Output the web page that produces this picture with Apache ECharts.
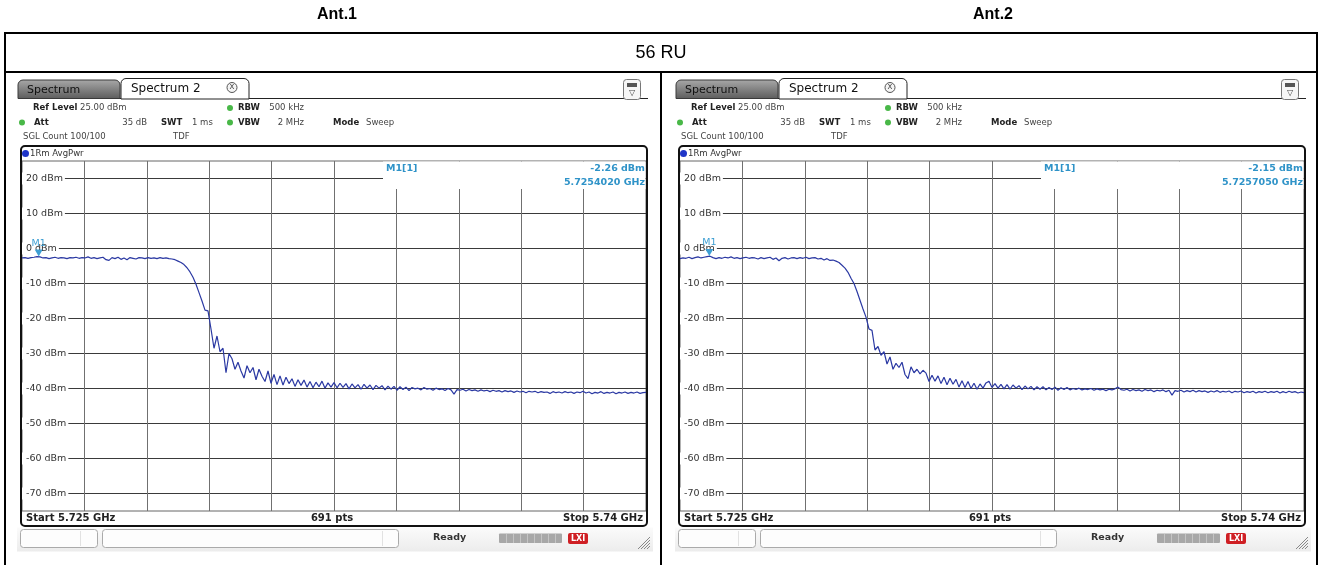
<!DOCTYPE html>
<html>
<head>
<meta charset="utf-8">
<script src="https://cdn.jsdelivr.net/npm/echarts@6/dist/echarts.min.js"></script>
<style>
  html, body { margin: 0; padding: 0; background: #fff; }
  #chart { width: 1322px; height: 565px; }
</style>
</head>
<body>
<div id="chart"></div>
<script>
// ---- sweep setup ----
const startGHz = 5.725;
const stopGHz = 5.74;
const sweepPoints = 691;
const refLevel = 25;          // dBm, top of the display
const displayRange = 100;     // dB over the 10 vertical divisions
const levelTicks = [20, 10, 0, -10, -20, -30, -40, -50, -60, -70];
const panelTitles = ['Ant.1', 'Ant.2'];
const rowTitle = '56 RU';

// ---- marker M1 per antenna ----
const markerFreq = [5.725402, 5.725705];   // GHz
const markerLevel = [-2.26, -2.15];        // dBm

// ---- RMS average trace, evenly spaced from start to stop (dBm) ----
const ant1Level = [
  -2.7, -2.6, -2.8, -2.6, -2.5, -2.3, -2.4, -2.7, -2.6, -2.9,
  -2.7, -2.5, -2.8, -2.6, -2.7, -2.9, -2.6, -2.7, -2.5, -2.8,
  -2.6, -2.7, -2.4, -2.8, -2.6, -2.9, -2.7, -2.5, -3.2, -3.4,
  -2.6, -2.9, -2.5, -3.1, -2.7, -3.2, -2.6, -2.8, -3.0, -2.6,
  -2.7, -2.9, -2.6, -2.8, -2.7, -2.9, -2.6, -2.8, -2.7, -2.9,
  -3.0, -3.2, -3.6, -4.0, -4.6, -5.5, -6.7, -8.2, -10.2, -12.6,
  -15.0, -17.6, -17.8, -23.0, -28.5, -25.0, -29.5, -28.5, -35.5, -30.0,
  -31.5, -34.5, -32.5, -35.0, -37.0, -33.5, -35.5, -34.0, -37.5, -34.5,
  -36.5, -38.0, -35.0, -38.5, -36.0, -38.9, -36.4, -39.0, -36.8, -38.6,
  -37.2, -39.4, -37.5, -39.1, -37.6, -39.6, -38.0, -39.8, -38.2, -39.5,
  -37.9, -39.9, -38.4, -39.6, -38.3, -39.8, -38.5, -39.7, -38.6, -40.1,
  -38.7, -39.8, -38.9, -40.2, -38.8, -39.9, -39.0, -40.3, -39.1, -39.9,
  -39.2, -40.4, -39.3, -40.2, -39.4, -40.5, -39.5, -40.3, -39.6, -40.6,
  -39.7, -40.1, -39.9, -40.4, -39.7, -40.2, -40.0, -40.5, -39.9, -40.3,
  -40.1, -40.6, -40.0, -40.4, -41.6, -40.3, -40.5, -40.2, -40.7, -40.3,
  -40.6, -40.4, -40.8, -40.4, -40.7, -40.5, -40.9, -40.5, -40.8, -40.6,
  -41.0, -40.6, -40.9, -40.7, -41.1, -40.7, -41.0, -40.8, -41.2, -40.8,
  -41.0, -40.8, -41.2, -40.9, -41.1, -41.0, -41.4, -40.9, -41.2, -41.0,
  -41.3, -40.9, -41.2, -41.0, -41.4, -41.0, -41.2, -40.8, -41.3, -41.0,
  -41.5, -41.1, -41.3, -40.9, -41.4, -41.1, -41.3, -41.0, -41.5, -41.1,
  -41.3, -41.0, -41.4, -41.1, -41.3, -41.0, -41.4, -41.2, -41.1
];
const ant2Level = [
  -2.9, -2.7, -2.8, -2.5, -2.9, -2.6, -2.4, -2.7, -2.5, -2.3,
  -2.2, -2.6, -2.9, -2.6, -2.8, -2.5, -2.7, -2.4, -2.8, -2.6,
  -2.9, -2.7, -2.5, -2.8, -2.6, -2.7, -3.0, -2.6, -2.9, -2.7,
  -2.5, -3.1, -2.7, -3.5, -2.8, -2.6, -3.0, -2.7, -2.6, -2.9,
  -2.6, -2.8, -2.5, -2.9, -2.7, -2.6, -3.0, -2.8, -3.3, -2.9,
  -3.4, -3.3, -3.6, -4.0, -4.8, -5.6, -6.8, -8.5, -10.0, -12.3,
  -14.8, -17.3, -19.6, -23.0, -23.4, -29.0, -28.0, -30.5, -29.5, -33.0,
  -31.0, -34.5, -32.8, -34.0, -32.5, -36.0, -37.2, -33.8, -35.5, -34.5,
  -35.8, -34.8, -35.6, -38.0, -36.2, -37.9, -36.4, -38.6, -36.8, -38.9,
  -37.1, -38.8, -37.4, -39.6, -37.8, -39.7, -38.0, -40.0, -38.5, -40.2,
  -38.7, -39.9, -38.4, -37.9, -39.7, -38.6, -39.9, -38.8, -40.1, -38.9,
  -40.2, -39.0, -39.9, -39.2, -40.3, -39.3, -40.1, -39.4, -40.4, -39.5,
  -40.2, -39.5, -40.4, -39.7, -40.3, -39.6, -40.5, -39.8, -40.3, -39.7,
  -40.4, -40.0, -40.3, -39.9, -40.4, -40.1, -40.3, -40.0, -40.5, -40.1,
  -40.4, -40.2, -40.6, -40.2, -40.4, -40.1, -39.6, -40.3, -40.5, -40.2,
  -40.7, -40.3, -40.6, -40.4, -40.8, -40.3, -40.6, -40.4, -40.9, -40.5,
  -40.7, -40.4, -40.9, -40.5, -41.9, -40.6, -40.8, -40.5, -41.0, -40.6,
  -40.9, -40.5, -41.0, -40.6, -40.9, -40.7, -41.1, -40.7, -41.0, -40.6,
  -41.1, -40.8, -41.0, -40.7, -41.2, -40.8, -41.0, -40.7, -41.2, -40.9,
  -41.1, -40.8, -41.3, -40.9, -41.1, -40.8, -41.2, -40.9, -41.1, -40.8,
  -41.3, -40.9, -41.2, -40.8, -41.1, -40.9, -41.3, -41.0, -41.2
];
const traces = [ant1Level, ant2Level];

// ---- drawing helpers ----
const UI_FONT = '"DejaVu Sans", Verdana, sans-serif';
const TRACE_COLOR = '#2b39a3';
const MARKER_COLOR = '#3d9fd3';
const INFO_COLOR = '#2f93c8';
const SET_SIZE = 8.5;   // settings readout text size

function sweepFreq(i, n) {
  return startGHz + i * (stopGHz - startGHz) / (n - 1);
}
function gridFreqs() {
  const out = [];
  for (let k = 1; k < 10; k++) out.push(startGHz + k * (stopGHz - startGHz) / 10);
  return out;
}
function txt(x, y, text, size, opts) {
  opts = opts || {};
  const align = opts.align || 'left';
  return {
    type: 'text', z: opts.z || 20,
    style: {
      x: x, y: y, text: text,
      font: (opts.weight || 'normal') + ' ' + size + 'px ' + (opts.family || UI_FONT),
      fill: opts.fill || '#222',
      align: align, textAlign: align,
      verticalAlign: 'middle', textVerticalAlign: 'middle'
    }
  };
}
function line(x1, y1, x2, y2, stroke, w, z) {
  return { type: 'line', z: z || 15, shape: { x1, y1, x2, y2 }, style: { stroke: stroke, lineWidth: w || 1 } };
}
function rect(x, y, w, h, style, r, z) {
  return { type: 'rect', z: z || 15, shape: { x, y, width: w, height: h, r: r || 0 }, style: style };
}

// Instrument screen decoration for one panel, shifted by dx
function panelGraphics(k, dx) {
  const g = [];
  const G = echarts.graphic;
  // tabs
  g.push(rect(18 + dx, 80, 102, 18.5, {
    fill: new G.LinearGradient(0, 0, 0, 1, [{ offset: 0, color: '#a9a9a9' }, { offset: 1, color: '#5c5c5c' }]),
    stroke: '#3a3a3a', lineWidth: 1 }, [5, 5, 0, 0]));
  g.push(txt(27 + dx, 90, 'Spectrum', 11, { fill: '#111' }));
  g.push(line(18 + dx, 98.5, 648 + dx, 98.5, '#222', 1, 14));
  g.push(rect(121 + dx, 78.5, 128, 20.5, { fill: '#fff', stroke: '#222', lineWidth: 1 }, [5, 5, 0, 0], 16));
  g.push(txt(131 + dx, 88.5, 'Spectrum 2', 12, { fill: '#111', z: 21 }));
  g.push({ type: 'circle', z: 21, shape: { cx: 232 + dx, cy: 87.5, r: 5 }, style: { fill: '#f4f4f4', stroke: '#555', lineWidth: 1 } });
  g.push(txt(232 + dx, 87.5, 'X', 7, { align: 'center', fill: '#333', z: 22 }));
  // top-right menu icon
  g.push(rect(623.5 + dx, 79.5, 17, 20, { fill: '#f6f6f6', stroke: '#777', lineWidth: 1 }, 3, 16));
  g.push(rect(627 + dx, 83, 10, 4, { fill: '#555' }, 0, 17));
  g.push(txt(632 + dx, 93, '\u25BD', 8, { align: 'center', fill: '#444', z: 22 }));

  // setting readouts
  const dot = (cx, cy) => ({ type: 'circle', z: 20, shape: { cx: cx + dx, cy: cy, r: 3 }, style: { fill: '#49b848' } });
  const S = SET_SIZE;
  g.push(txt(33 + dx, 108, 'Ref Level', S, { weight: 'bold' }));
  g.push(txt(80 + dx, 108, refLevel.toFixed(2) + ' dBm', S, { fill: '#444' }));
  g.push(dot(230, 108));
  g.push(txt(238 + dx, 108, 'RBW', S, { weight: 'bold' }));
  g.push(txt(304 + dx, 108, '500 kHz', S, { fill: '#444', align: 'right' }));

  g.push(dot(22, 122.5));
  g.push(txt(34 + dx, 122.5, 'Att', S, { weight: 'bold' }));
  g.push(txt(147 + dx, 122.5, '35 dB', S, { fill: '#444', align: 'right' }));
  g.push(txt(161 + dx, 122.5, 'SWT', S, { weight: 'bold' }));
  g.push(txt(192 + dx, 122.5, '1 ms', S, { fill: '#444' }));
  g.push(dot(230, 122.5));
  g.push(txt(238 + dx, 122.5, 'VBW', S, { weight: 'bold' }));
  g.push(txt(304 + dx, 122.5, '2 MHz', S, { fill: '#444', align: 'right' }));
  g.push(txt(333 + dx, 122.5, 'Mode', S, { weight: 'bold' }));
  g.push(txt(366 + dx, 122.5, 'Sweep', S, { fill: '#444' }));

  g.push(txt(23 + dx, 137, 'SGL Count 100/100', S, { fill: '#444' }));
  g.push(txt(173 + dx, 137, 'TDF', S, { fill: '#444' }));

  // trace window frame and header
  g.push(rect(21 + dx, 146, 626, 380, { fill: 'none', stroke: '#111', lineWidth: 2 }, 4, 30));
  g.push({ type: 'circle', z: 20, shape: { cx: 25.5 + dx, cy: 153.5, r: 3.5 }, style: { fill: '#1f35c8' } });
  g.push(txt(30 + dx, 153.5, '1Rm AvgPwr', S, { fill: '#333' }));

  // marker readout box
  g.push(rect(383 + dx, 161.6, 262.5, 27.4, { fill: '#fff' }, 0, 6));
  g.push(txt(386 + dx, 168.5, 'M1[1]', 9.5, { weight: 'bold', fill: INFO_COLOR }));
  g.push(txt(645 + dx, 168.5, markerLevel[k].toFixed(2) + ' dBm', 9.5, { weight: 'bold', fill: INFO_COLOR, align: 'right' }));
  g.push(txt(645 + dx, 182.5, markerFreq[k].toFixed(7) + ' GHz', 9.5, { weight: 'bold', fill: INFO_COLOR, align: 'right' }));

  // status line under the diagram
  g.push(txt(26 + dx, 518.5, 'Start ' + startGHz + ' GHz', 10, { weight: 'bold', fill: '#222' }));
  g.push(txt(332 + dx, 518.5, sweepPoints + ' pts', 10, { weight: 'bold', fill: '#222', align: 'center' }));
  g.push(txt(643 + dx, 518.5, 'Stop ' + stopGHz + ' GHz', 10, { weight: 'bold', fill: '#222', align: 'right' }));

  // bottom tool bar
  g.push(rect(17 + dx, 527.5, 636, 24, {
    fill: new G.LinearGradient(0, 0, 0, 1, [{ offset: 0, color: '#fbfbfb' }, { offset: 1, color: '#ececec' }]) }, 0, 5));
  g.push(rect(20.5 + dx, 529.5, 77, 18, { fill: '#fdfdfd', stroke: '#aaa', lineWidth: 1 }, 3, 16));
  g.push(line(80.5 + dx, 531, 80.5 + dx, 546, '#e2e2e2', 1, 17));
  g.push(rect(102.5 + dx, 529.5, 296, 18, { fill: '#fdfdfd', stroke: '#aaa', lineWidth: 1 }, 3, 16));
  g.push(line(382.5 + dx, 531, 382.5 + dx, 546, '#e2e2e2', 1, 17));
  g.push(txt(433 + dx, 538, 'Ready', 9.5, { weight: 'bold', fill: '#333' }));
  g.push(rect(499 + dx, 533.5, 63, 9.5, { fill: '#a7a7a7' }, 1, 16));
  for (let s = 1; s < 9; s++) g.push(line(499.5 + dx + s * 7, 534, 499.5 + dx + s * 7, 543, '#c4c4c4', 1, 17));
  g.push(rect(568 + dx, 533, 20, 11, { fill: '#cf1f24' }, 2, 16));
  g.push(txt(578 + dx, 538.5, 'LXI', 8, { weight: 'bold', fill: '#fff', align: 'center', z: 18 }));
  for (let s = 0; s < 4; s++) g.push(line(638 + dx + s * 3, 549, 650 + dx, 537 + s * 3, '#888', 1, 17));
  return g;
}

// ---- layout: two trace windows side by side ----
const gridLeft = [22, 680];
const gridTop = 161;
const gridW = 624;
const gridH = 350;

const grids = gridLeft.map(l => ({
  left: l, top: gridTop, width: gridW, height: gridH,
  show: true, borderColor: '#666', borderWidth: 1, backgroundColor: '#fff'
}));
const xAxes = gridLeft.map((l, k) => ({
  type: 'value', gridIndex: k, min: startGHz, max: stopGHz,
  axisLine: { show: false },
  axisTick: { show: false, customValues: gridFreqs() },
  axisLabel: { show: false },
  splitLine: { show: true, lineStyle: { color: '#707070', width: 1 } }
}));
const yAxes = gridLeft.map((l, k) => ({
  type: 'value', gridIndex: k, min: refLevel - displayRange, max: refLevel,
  axisLine: { show: false },
  axisTick: { show: false, customValues: levelTicks },
  axisLabel: {
    show: true, inside: true, margin: 0, customValues: levelTicks,
    formatter: v => v + ' dBm',
    fontFamily: UI_FONT, fontSize: 9.5, color: '#333',
    backgroundColor: '#fff', padding: [1, 2, 1, 4]
  },
  splitLine: { show: true, lineStyle: { color: '#3a3a3a', width: 1 } }
}));
const series = traces.map((lv, k) => ({
  type: 'line', xAxisIndex: k, yAxisIndex: k,
  data: lv.map((v, i) => [sweepFreq(i, lv.length), v]),
  showSymbol: false, symbol: 'none', smooth: false,
  lineStyle: { color: TRACE_COLOR, width: 1.2 },
  z: 3,
  markPoint: {
    symbol: 'triangle', symbolRotate: 180, symbolSize: [8, 7], symbolOffset: [0, -3.5],
    itemStyle: { color: MARKER_COLOR },
    label: { show: true, position: 'top', distance: 1, formatter: 'M1', color: MARKER_COLOR, fontFamily: UI_FONT, fontSize: 9.5 },
    data: [{ coord: [markerFreq[k], markerLevel[k]] }]
  }
}));

// ---- table around the two screens ----
const tableGraphics = [
  rect(5, 33, 1312, 560, { fill: 'none', stroke: '#000', lineWidth: 2 }, 0, 40),
  line(5, 72, 1317, 72, '#000', 2, 40),
  line(661, 72, 661, 565, '#000', 2, 40),
  txt(337, 15, panelTitles[0], 16, { weight: 'bold', family: '"Liberation Sans", Arial, sans-serif', align: 'center', fill: '#000' }),
  txt(993, 15, panelTitles[1], 16, { weight: 'bold', family: '"Liberation Sans", Arial, sans-serif', align: 'center', fill: '#000' }),
  txt(661, 53, rowTitle, 18, { family: '"Liberation Sans", Arial, sans-serif', align: 'center', fill: '#000' })
];

const chart = echarts.init(document.getElementById('chart'), null, { renderer: 'canvas' });
chart.setOption({
  animation: false,
  backgroundColor: '#fff',
  grid: grids,
  xAxis: xAxes,
  yAxis: yAxes,
  series: series,
  graphic: { elements: tableGraphics.concat(panelGraphics(0, 0), panelGraphics(1, 658)) }
});
</script>
</body>
</html>
